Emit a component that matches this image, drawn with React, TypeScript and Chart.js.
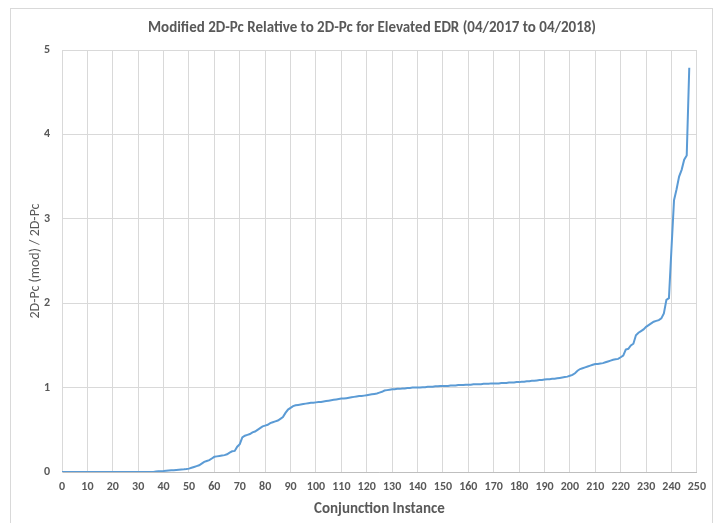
import React, { useEffect, useRef } from "react";
import { Chart, registerables } from "chart.js";

Chart.register(...registerables);

const TITLE = "Modified 2D-Pc Relative to 2D-Pc for Elevated EDR (04/2017 to 04/2018)";
const X_TITLE = "Conjunction Instance";
const Y_TITLE = "2D-Pc (mod) / 2D-Pc";

// Ratio values, one per conjunction instance (instance index = position in array)
const ratios: number[] = [
  // 0-36
  0, 0, 0, 0, 0, 0, 0, 0, 0, 0,
  0, 0, 0, 0, 0, 0, 0, 0, 0, 0,
  0, 0, 0, 0, 0, 0, 0, 0, 0, 0,
  0, 0, 0, 0, 0, 0, 0,
  // 37-40
  0.005, 0.008, 0.01, 0.012,
  // 41-48
  0.015, 0.018, 0.02, 0.022, 0.025, 0.028, 0.03, 0.032,
  // 49-52
  0.035, 0.04, 0.05, 0.06,
  // 53-55
  0.07, 0.08, 0.1,
  // 56-60
  0.12, 0.13, 0.14, 0.16, 0.18,
  // 61-64
  0.185, 0.19, 0.195, 0.2,
  // 65-68
  0.21, 0.23, 0.245, 0.25,
  // 69-72
  0.3, 0.33, 0.41, 0.43,
  // 73-75
  0.44, 0.45, 0.47,
  // 76-80
  0.48, 0.5, 0.52, 0.54, 0.55,
  // 81-87
  0.56, 0.58, 0.59, 0.6, 0.61, 0.63, 0.65,
  // 88-92
  0.7, 0.74, 0.76, 0.78, 0.79,
  // 93-100
  0.795, 0.8, 0.805, 0.81, 0.815, 0.82, 0.82, 0.825,
  // 101-110
  0.83, 0.83, 0.835, 0.84, 0.845, 0.85, 0.855, 0.86, 0.865, 0.87,
  // 111-120
  0.87, 0.875, 0.88, 0.885, 0.89, 0.895, 0.9, 0.9, 0.905, 0.91,
  // 121-130
  0.915, 0.92, 0.925, 0.93, 0.94, 0.95, 0.965, 0.97, 0.975, 0.98,
  // 131-140
  0.98, 0.985, 0.985, 0.99, 0.99, 0.995, 0.995, 1.0, 1.0, 1.0,
  // 141-150
  1.0, 1.005, 1.005, 1.01, 1.01, 1.01, 1.015, 1.015, 1.02, 1.02,
  // 151-160
  1.02, 1.02, 1.025, 1.025, 1.025, 1.03, 1.03, 1.03, 1.035, 1.035,
  // 161-170
  1.035, 1.04, 1.04, 1.04, 1.04, 1.045, 1.045, 1.045, 1.05, 1.05,
  // 171-180
  1.05, 1.05, 1.055, 1.055, 1.055, 1.06, 1.06, 1.06, 1.065, 1.065,
  // 181-190
  1.07, 1.07, 1.075, 1.075, 1.08, 1.08, 1.085, 1.09, 1.09, 1.095,
  // 191-200
  1.1, 1.1, 1.105, 1.105, 1.11, 1.115, 1.12, 1.125, 1.13, 1.14,
  // 201-210
  1.15, 1.17, 1.2, 1.22, 1.23, 1.24, 1.25, 1.26, 1.27, 1.28,
  // 211-220
  1.28, 1.285, 1.29, 1.3, 1.31, 1.32, 1.33, 1.335, 1.34, 1.36,
  // 221-230
  1.38, 1.45, 1.46, 1.5, 1.52, 1.62, 1.65, 1.67, 1.69, 1.72,
  // 231-239
  1.74, 1.76, 1.78, 1.79, 1.8, 1.82, 1.88, 2.04, 2.06,
  // 240-247
  2.65, 3.22, 3.35, 3.5, 3.58, 3.7, 3.75, 4.79,
];

const X_MIN = 0;
const X_MAX = 250;
const X_STEP = 10;
const Y_MIN = 0;
const Y_MAX = 5;
const Y_STEP = 1;

const FONT = "Carlito, 'Liberation Sans Narrow', 'DejaVu Sans Condensed', 'Open Sans', sans-serif";
const TEXT = "#595959";
const GRID = "#d9d9d9";
const LINE = "#5b9bd5";

const frame = {
  id: "frame",
  beforeDraw(chart: any) {
    const { ctx } = chart;
    ctx.save();
    ctx.fillStyle = "#ffffff";
    ctx.fillRect(0, 0, chart.width, chart.height);
    ctx.strokeStyle = "#d9d9d9";
    ctx.lineWidth = 1;
    ctx.strokeRect(10.5, 8.5, chart.width - 12, chart.height + 10);
    ctx.restore();
  },
  afterDraw(chart: any) {
    const { ctx } = chart;
    ctx.save();
    ctx.fillStyle = TEXT;
    ctx.font = `bold 15px ${FONT}`;
    ctx.textAlign = "center";
    ctx.textBaseline = "middle";
    ctx.fillText(TITLE, 372, 28);
    ctx.restore();
  },
};

export default function App() {
  const ref = useRef<HTMLCanvasElement | null>(null);
  useEffect(() => {
    if (!ref.current) return;
    const points = ratios.map((v, i) => ({ x: i, y: v }));
    const chart = new Chart(ref.current, {
      type: "line",
      data: {
        datasets: [
          {
            data: points,
            borderColor: LINE,
            borderWidth: 2,
            pointRadius: 0,
            tension: 0,
            fill: false,
          },
        ],
      },
      options: {
        animation: false,
        responsive: false,
        maintainAspectRatio: false,
        layout: { padding: { left: 0, right: 9, top: 50, bottom: 0 } },
        plugins: {
          legend: { display: false },
          title: { display: false },
          tooltip: { enabled: false },
        },
        scales: {
          x: {
            type: "linear",
            min: X_MIN,
            max: X_MAX,
            ticks: {
              stepSize: X_STEP,
              color: TEXT,
              font: { family: FONT, size: 12, weight: "bold" },
              padding: 8,
              maxRotation: 0,
              autoSkip: false,
            },
            grid: { color: GRID, drawTicks: false },
            border: { color: "#bfbfbf" },
            title: {
              display: true,
              text: X_TITLE,
              color: TEXT,
              font: { family: FONT, size: 15, weight: "bold" },
              padding: { top: 4, bottom: 5 },
            },
            afterFit: (s: any) => {
              s.height = 51;
            },
          },
          y: {
            min: Y_MIN,
            max: Y_MAX,
            ticks: {
              stepSize: Y_STEP,
              color: TEXT,
              font: { family: FONT, size: 12, weight: "bold" },
              padding: 12,
            },
            grid: { color: GRID, drawTicks: false },
            border: { color: GRID },
            title: {
              display: true,
              text: Y_TITLE,
              color: TEXT,
              font: { family: FONT, size: 14 },
              padding: { top: 27, bottom: 0 },
            },
            afterFit: (s: any) => {
              s.width = 62;
            },
          },
        },
      },
      plugins: [frame],
    });
    return () => chart.destroy();
  }, []);
  return (
    <div style={{ position: "absolute", left: 0, top: 0, width: 714, height: 523 }}>
      <canvas ref={ref} width={714} height={523} style={{ width: 714, height: 523 }} />
    </div>
  );
}
